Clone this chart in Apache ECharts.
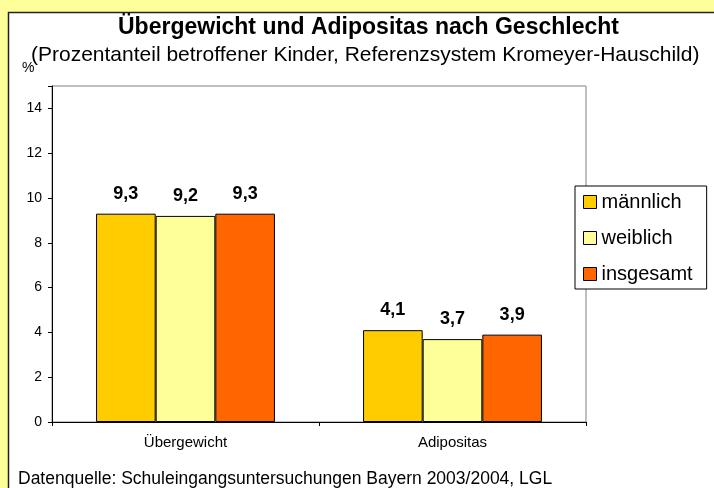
<!DOCTYPE html>
<html>
<head>
<meta charset="utf-8">
<script src="https://cdn.jsdelivr.net/npm/echarts@6/dist/echarts.min.js"></script>
<style>
  html, body { margin: 0; padding: 0; background: #FFFF99; }
  #chart { width: 714px; height: 488px; }
</style>
</head>
<body>
<div id="chart"></div>
<script>
// Daten
const categories = ['Übergewicht', 'Adipositas'];
const maennlich = [9.3, 4.1];
const weiblich = [9.2, 3.7];
const insgesamt = [9.3, 3.9];
const yTicks = [0, 2, 4, 6, 8, 10, 12, 14];

const chart = echarts.init(document.getElementById('chart'));
const font = 'Liberation Sans, Arial, sans-serif';

function barSeries(name, data, color) {
    return {
        name: name,
        type: 'bar',
        data: data,
        barGap: '0%',
        barCategoryGap: '33%',
        itemStyle: { color: color, borderColor: '#000', borderWidth: 1 },
        label: {
            show: true,
            position: 'top',
            distance: 11,
            fontFamily: font,
            fontWeight: 'bold',
            fontSize: 18,
            color: '#000',
            formatter: function (p) { return String(p.value).replace('.', ','); }
        }
    };
}

const option = {
    backgroundColor: '#FFFF99',
    animation: false,
    graphic: [
        {
            type: 'rect',
            shape: { x: 8.5, y: 12.5, width: 720, height: 490 },
            style: { fill: '#fff', stroke: '#222', lineWidth: 1.5 },
            z: -10
        },
        {
            type: 'text', left: 118, top: 16,
            style: { text: 'Übergewicht und Adipositas nach Geschlecht', font: 'bold 23px ' + font, fill: '#000' }
        },
        {
            type: 'text', left: 31, top: 45,
            style: { text: '(Prozentanteil betroffener Kinder, Referenzsystem Kromeyer-Hauschild)', font: '21px ' + font, fill: '#000' }
        },
        {
            type: 'text', left: 22, top: 61,
            style: { text: '%', font: '14px ' + font, fill: '#000' }
        },
        {
            type: 'text', left: 18, top: 470,
            style: { text: 'Datenquelle: Schuleingangsuntersuchungen Bayern 2003/2004, LGL', font: '17.5px ' + font, fill: '#000' }
        }
    ],
    grid: {
        left: 52, right: 128, top: 86, bottom: 66,
        show: true, borderColor: '#808080', borderWidth: 1, backgroundColor: '#fff'
    },
    legend: {
        orient: 'vertical',
        left: 575, top: 186,
        padding: [6, 14, 5, 8],
        itemWidth: 13, itemHeight: 13, itemGap: 16,
        backgroundColor: '#fff', borderColor: '#000', borderWidth: 1,
        textStyle: { fontFamily: font, fontSize: 20, color: '#000', lineHeight: 20 },
        itemStyle: { borderColor: '#000', borderWidth: 1 },
        icon: 'rect',
        data: ['männlich', 'weiblich', 'insgesamt']
    },
    xAxis: {
        type: 'category',
        data: categories,
        axisLine: { lineStyle: { color: '#000' } },
        axisTick: { show: true, length: 4, lineStyle: { color: '#000' } },
        axisLabel: { fontFamily: font, fontSize: 15, color: '#000', margin: 13 }
    },
    yAxis: {
        type: 'value',
        min: 0, max: 15, interval: 2,
        splitLine: { show: false },
        axisLine: { show: true, lineStyle: { color: '#000' } },
        axisTick: { show: true, length: 4, lineStyle: { color: '#000' } },
        axisLabel: {
            fontFamily: font, fontSize: 14, color: '#000', margin: 10,
            formatter: function (v) { return yTicks.indexOf(v) >= 0 ? String(v) : ''; }
        }
    },
    series: [
        barSeries('männlich', maennlich, '#FFCC00'),
        barSeries('weiblich', weiblich, '#FFFF99'),
        barSeries('insgesamt', insgesamt, '#FF6600')
    ]
};

chart.setOption(option);
</script>
</body>
</html>
